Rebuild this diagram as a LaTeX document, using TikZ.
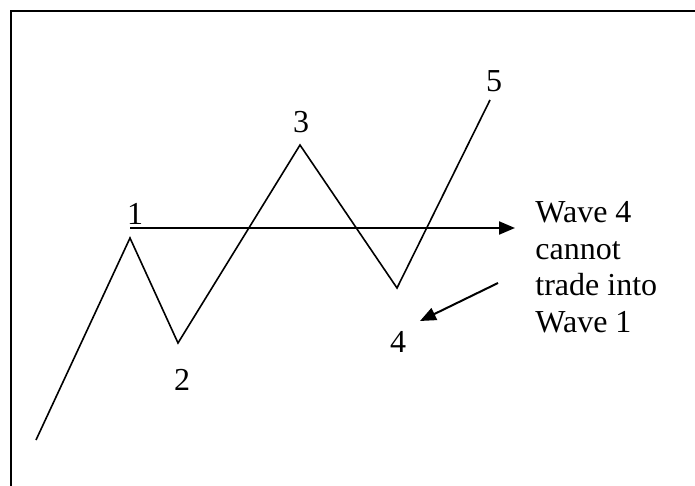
\documentclass[tikz,border=0pt]{standalone}
\usepackage{fontspec}
\setmainfont{Liberation Serif}
\usepackage{tikz}
\usetikzlibrary{arrows.meta}

\begin{document}
\begin{tikzpicture}[
  x=0.5pt,y=-0.5pt,>=Latex,
  wave/.style={draw=black,line width=0.8pt,line join=miter},
  pointer/.style={-{Triangle[length=8pt,width=6.5pt]},draw=black,line width=1pt},
  frame/.style={draw=black,line width=1.1pt},
  wavenum/.style={font=\fontsize{16}{18}\selectfont,inner sep=0pt},
  note/.style={font=\fontsize{16}{18.3}\selectfont,align=left,inner sep=0pt}
]
\useasboundingbox (0,0) rectangle (695,486);
\clip (0,0) rectangle (695,486);

% outer frame, cut off at the right and bottom
\draw[frame] (11,11) rectangle (702,494);

% impulse wave: five turning points
\coordinate (w0) at (36,440);
\coordinate (w1) at (130,238);
\coordinate (w2) at (178,343);
\coordinate (w3) at (300,145);
\coordinate (w4) at (397,288);
\coordinate (w5) at (490,100);
\draw[wave] (w0) -- (w1) -- (w2) -- (w3) -- (w4) -- (w5);

% wave numbers
\node[wavenum,anchor=base] (n1) at (135,225) {1};
\node[wavenum,anchor=base] (n2) at (182,390) {2};
\node[wavenum,anchor=base] (n3) at (301,133) {3};
\node[wavenum,anchor=base] (n4) at (398,352) {4};
\node[wavenum,anchor=base] (n5) at (494,92) {5};

% rule note
\node[note,anchor=north west] (rule) at (535,201)
  {Wave 4\\cannot\\trade into\\Wave 1};

% wave 1 level and pointer to wave 4
\coordinate (lvlA) at (130,228);
\coordinate (lvlB) at (515,228);
\coordinate (tipA) at (498,283);
\coordinate (tipB) at (420,321);
\draw[pointer] (lvlA) -- (lvlB);
\draw[pointer] (tipA) -- (tipB);

\end{tikzpicture}
\end{document}
